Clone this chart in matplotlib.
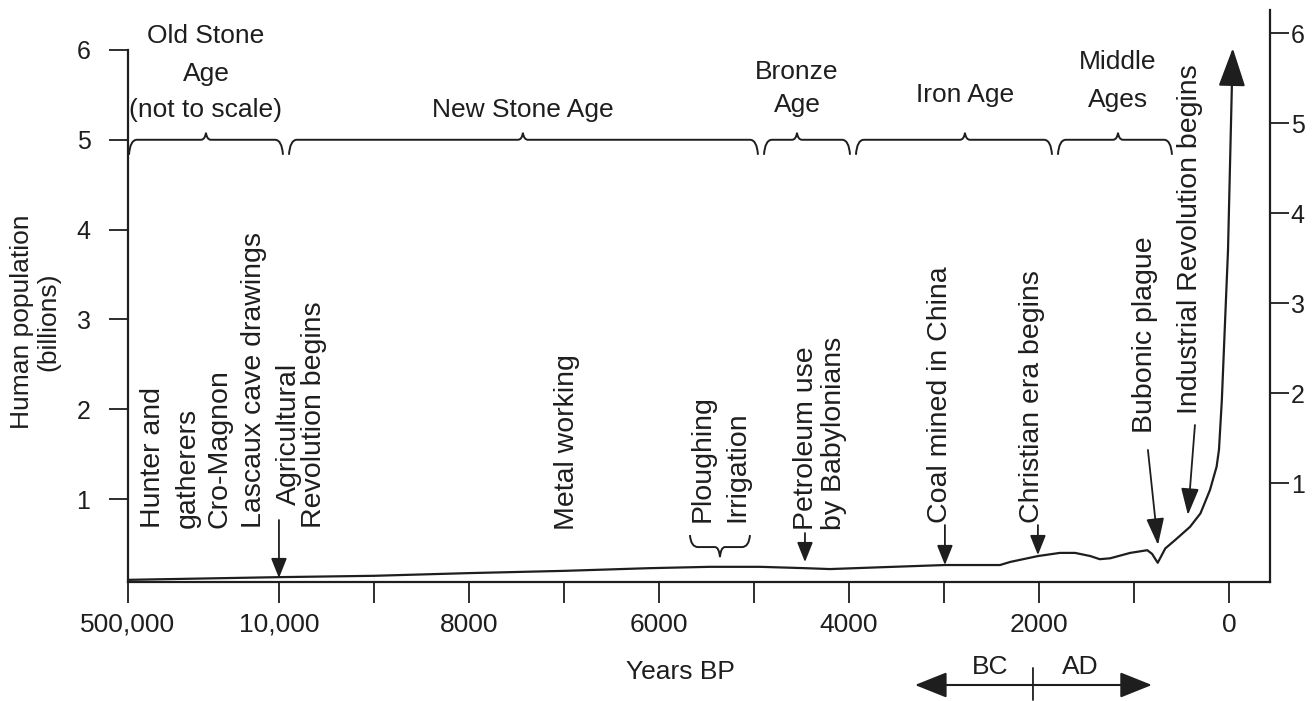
import numpy as np
import matplotlib.pyplot as plt
from matplotlib.path import Path
from matplotlib.patches import PathPatch
from matplotlib.transforms import IdentityTransform

plt.rcParams['font.family'] = ['Liberation Sans', 'DejaVu Sans']

# --- population curve (years before present, billions) ---
years_bp = [500000, 10000, 9000, 8000, 7000, 6100, 5460, 4940, 4460, 4200,
            3670, 2990, 2410, 2300, 2010, 1780, 1620, 1460, 1360, 1250,
            1040, 860, 810, 750, 670, 570, 410, 300, 200, 130,
            105, 75, 32, 10, -40]
population = [0.10, 0.13, 0.145, 0.175, 0.20, 0.23, 0.245, 0.245, 0.23, 0.22,
              0.24, 0.265, 0.265, 0.30, 0.365, 0.40, 0.40, 0.365, 0.33, 0.34,
              0.40, 0.43, 0.39, 0.29, 0.45, 0.54, 0.69, 0.84, 1.10, 1.36,
              1.55, 2.10, 3.21, 3.77, 6.02]

x_ticks = [500000, 10000, 9000, 8000, 7000, 6000, 5000, 4000, 3000, 2000, 1000, 0]
x_labels = ['500,000', '10,000', '', '8000', '', '6000', '', '4000', '', '2000', '', '0']
y_ticks = [1, 2, 3, 4, 5, 6]

# --- ages (brace start, end, tip) ---
era_start = [500000, 9905, 4905, 3937, 1811]
era_end = [9958, 4958, 3989, 1863, 600]
era_tip = [247000, 7432, 4547, 2779, 1168]

# --- vertical event notes ---
event_lines = ['Hunter and', 'gatherers', 'Cro-Magnon', 'Lascaux cave drawings',
               'Agricultural', 'Revolution begins', 'Metal working',
               'Ploughing', 'Irrigation', 'Petroleum use', 'by Babylonians',
               'Coal mined in China', 'Christian era begins',
               'Bubonic plague', 'Industrial Revolution begins']
event_x = [419000, 305300, 201500, 91100, 9895, 9632, 6968, 5537, 5179,
           4453, 4158, 3042, 2074, 884, 411]
event_y = [0.677, 0.677, 0.677, 0.677, 0.933, 0.677, 0.655, 0.744, 0.744,
           0.655, 0.655, 0.733, 0.733, 1.735, 1.946]

# arrows: (x from, y from, x to, y to)
arrow_from_x = [10000, 4463, 2990, 2011, 853, 358]
arrow_from_y = [0.766, 0.621, 0.71, 0.71, 1.546, 1.824]
arrow_to_x = [10000, 4463, 2990, 2011, 747, 432]
arrow_to_y = [0.12, 0.298, 0.265, 0.376, 0.488, 0.822]

K = 1589.0 / 490000.0


def fwd(yr):
    yr = np.asarray(yr, dtype=float)
    return np.where(yr <= 10000, yr - 10000, (yr - 10000) * K)


def inv(p):
    p = np.asarray(p, dtype=float)
    return np.where(p <= 0, p + 10000, p / K + 10000)


INK = '#1e1e1e'

fig = plt.figure(figsize=(13.16, 7.01), dpi=100)
ax = fig.add_axes([128 / 1316, (701 - 582) / 701, (1270 - 128) / 1316, (582 - 10) / 701])
ax.set_xscale('function', functions=(fwd, inv))
ax.set_xlim(500000, -432)
ax.set_ylim(0.076, 6.445)

ax.plot(years_bp[:-1], population[:-1], color=INK, lw=1.6, solid_capstyle='round')
ax.annotate('', xy=(years_bp[-1], population[-1]), xytext=(years_bp[-2], population[-2]),
            arrowprops=dict(arrowstyle='-|>,head_length=1.0,head_width=0.35',
                            mutation_scale=24, lw=1.6, color=INK, shrinkA=0, shrinkB=0))

for sp in ['top', 'right']:
    ax.spines[sp].set_visible(False)
for sp in ['left', 'bottom']:
    ax.spines[sp].set_linewidth(1.6)
    ax.spines[sp].set_color(INK)
ax.spines['left'].set_bounds(0.076, 6)

ax.set_xticks(x_ticks)
ax.set_xticklabels(x_labels)
ax.set_yticks(y_ticks)
ax.tick_params(axis='x', direction='out', length=15, width=1.3, pad=7, labelsize=19, colors=INK)
ax.tick_params(axis='y', direction='out', length=14, width=1.3, pad=13, labelsize=18, colors=INK)

ax2 = ax.twinx()
ax2.set_ylim(-0.1, 6.256)
ax2.set_yticks(y_ticks)
for sp in ['top', 'left', 'bottom']:
    ax2.spines[sp].set_visible(False)
ax2.spines['right'].set_linewidth(1.6)
ax2.spines['right'].set_color(INK)
ax2.tick_params(axis='y', direction='out', length=14, width=1.3, pad=1, labelsize=18, colors=INK)

# --- event labels and arrows ---
for txt, x, y in zip(event_lines, event_x, event_y):
    ax.text(x, y, txt, rotation=90, ha='center', va='bottom', fontsize=20.5, color=INK)

for i in range(len(arrow_from_x)):
    big = i >= 4
    style = ('-|>,head_length=0.75,head_width=0.25' if big
             else '-|>,head_length=0.55,head_width=0.22')
    ax.annotate('', xy=(arrow_to_x[i], arrow_to_y[i]),
                xytext=(arrow_from_x[i], arrow_from_y[i]),
                arrowprops=dict(arrowstyle=style, mutation_scale=22, lw=1.3,
                                color=INK, shrinkA=0, shrinkB=0))


# --- curly braces ---
def brace(x0, x1, xp, y, h_end, h_peak, s=1, w=8):
    verts = [(x0, y - s * h_end), (x0 + 1, y), (x0 + w, y),
             (xp - 5, y), (xp - 1, y), (xp, y + s * h_peak),
             (xp + 1, y), (xp + 5, y),
             (x1 - w, y), (x1 - 1, y), (x1, y - s * h_end)]
    codes = [Path.MOVETO, Path.CURVE3, Path.CURVE3, Path.LINETO, Path.CURVE3,
             Path.CURVE3, Path.CURVE3, Path.CURVE3, Path.LINETO, Path.CURVE3,
             Path.CURVE3]
    fig.add_artist(PathPatch(Path(verts, codes), fill=False, lw=1.4, ec=INK,
                             transform=IdentityTransform()))


def px(yr, v):
    return ax.transData.transform((yr, v))


for a, b, t in zip(era_start, era_end, era_tip):
    xa, yb = px(a, 5.0)
    xb, _ = px(b, 5.0)
    xt, _ = px(t, 5.0)
    brace(xa + 1, xb, xt, yb, 15, 7)

# ploughing / irrigation brace (opens upward)
xa, yb = px(5674, 0.465)
xb, _ = px(5042, 0.465)
xt, _ = px(5358, 0.465)
brace(xa, xb, xt, yb, 12, 10, s=-1)

# --- age names ---
era_text = [('Old Stone', 247000, 6.15), ('Age', 247000, 5.73), ('(not to scale)', 247000, 5.33),
            ('New Stone Age', 7432, 5.33),
            ('Bronze', 4547, 5.754), ('Age', 4547, 5.387),
            ('Iron Age', 2779, 5.498),
            ('Middle', 1168, 5.865), ('Ages', 1168, 5.442)]
for txt, x, y in era_text:
    ax.text(x, y, txt, ha='center', va='center', fontsize=19, color=INK)

# --- axis titles ---
fig.text(680 / 1316, (701 - 672) / 701, 'Years BP', ha='center', va='center',
         fontsize=19, color=INK)
fig.text(35 / 1316, (701 - 322) / 701, 'Human population\n(billions)', rotation=90,
         ha='center', va='center', multialignment='center', fontsize=19,
         color=INK, linespacing=1.1)

# --- BC / AD marker ---
ax.annotate('', xy=(811, 16), xytext=(3305, 16), xycoords=('data', 'figure pixels'),
            textcoords=('data', 'figure pixels'), annotation_clip=False,
            arrowprops=dict(arrowstyle='<|-|>,head_length=1.0,head_width=0.4',
                            mutation_scale=20, lw=1.5, color=INK, shrinkA=0, shrinkB=0))
ax.annotate('', xy=(2063, 1), xytext=(2063, 33), xycoords=('data', 'figure pixels'),
            textcoords=('data', 'figure pixels'), annotation_clip=False,
            arrowprops=dict(arrowstyle='-', lw=1.3, color=INK, shrinkA=0, shrinkB=0))
ax.annotate('BC', xy=(2516, 34), xycoords=('data', 'figure pixels'), ha='center',
            va='center', fontsize=19, color=INK, annotation_clip=False)
ax.annotate('AD', xy=(1568, 34), xycoords=('data', 'figure pixels'), ha='center',
            va='center', fontsize=19, color=INK, annotation_clip=False)

fig.savefig('out.png', dpi=100)
